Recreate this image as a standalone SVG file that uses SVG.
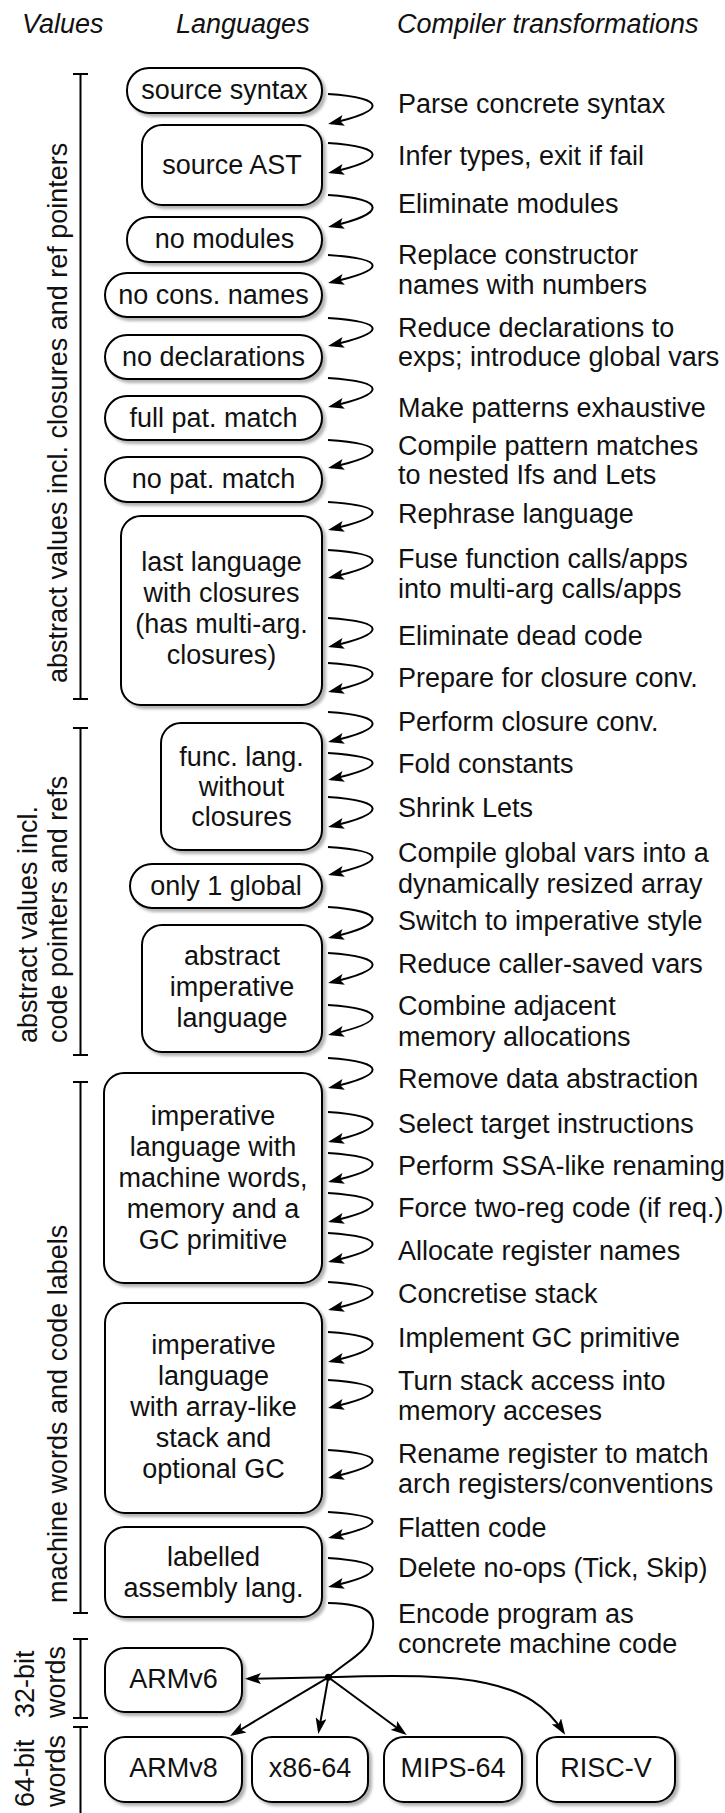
<svg xmlns="http://www.w3.org/2000/svg" width="725" height="1813" viewBox="0 0 725 1813">
  <defs>
    <style>
      .t { font-family: "Liberation Sans", Arial, Helvetica, sans-serif; font-size: 27px; fill: #111; }
      .m { text-anchor: middle; }
      .h { font-style: italic; }
      .box { fill: #fff; stroke: #000; stroke-width: 2; filter: url(#shadow); }
      .edge { fill: none; stroke: #000; stroke-width: 2; }
      .arr { marker-end: url(#head); }
      .brk { fill: none; stroke: #000; stroke-width: 2; }
    </style>
    <filter id="shadow" x="-10%" y="-10%" width="130%" height="140%">
      <feDropShadow dx="3" dy="3" stdDeviation="1.5" flood-color="#000" flood-opacity="0.3"/>
    </filter>
    <marker id="head" viewBox="0 0 16 11" refX="13" refY="5.5" markerWidth="16" markerHeight="11" markerUnits="userSpaceOnUse" orient="auto">
      <path d="M0,0 L16,5.5 L0,11 L3.5,5.5 Z" fill="#000"/>
    </marker>
  </defs>

  <rect width="725" height="1813" fill="#fff"/>

  <!-- column headings -->
  <g id="headings" class="t h">
    <text x="22" y="33">Values</text>
    <text x="176" y="33">Languages</text>
    <text x="397" y="33">Compiler transformations</text>
  </g>

  <!-- value-representation brackets -->
  <g id="brackets" class="brk">
    <path d="M80.5 74V699M73 74H88M73 699H88"/>
    <path d="M80.5 728V1055M73 728H88M73 1055H88"/>
    <path d="M80.5 1082V1613M73 1082H88M73 1613H88"/>
    <path d="M80.5 1639V1718M73 1639H88M73 1718H88"/>
    <path d="M80.5 1727V1813M73 1727H88"/>
  </g>
  <g id="bracket-labels" class="t">
    <text transform="translate(67 683) rotate(-90)">abstract values incl. closures and ref pointers</text>
    <text transform="translate(37 1043) rotate(-90)">abstract values incl.</text>
    <text transform="translate(67 1043) rotate(-90)">code pointers and refs</text>
    <text transform="translate(67 1603) rotate(-90)">machine words and code labels</text>
    <text transform="translate(34 1718) rotate(-90)">32-bit</text>
    <text transform="translate(65 1718) rotate(-90)">words</text>
    <text transform="translate(34 1807) rotate(-90)">64-bit</text>
    <text transform="translate(65 1807) rotate(-90)">words</text>
  </g>

  <!-- language nodes -->
  <g id="source-syntax"><rect class="box" x="127" y="68" width="195" height="45" rx="22"/><text class="t m" x="224.5" y="99">source syntax</text></g>
  <g id="source-ast"><rect class="box" x="142" y="125" width="180" height="80" rx="20"/><text class="t m" x="232" y="174">source AST</text></g>
  <g id="no-modules"><rect class="box" x="127" y="217" width="195" height="45" rx="22"/><text class="t m" x="224.5" y="248">no modules</text></g>
  <g id="no-cons-names"><rect class="box" x="105" y="273" width="217" height="44" rx="22"/><text class="t m" x="213.5" y="304">no cons. names</text></g>
  <g id="no-declarations"><rect class="box" x="105" y="335" width="217" height="44" rx="22"/><text class="t m" x="213.5" y="366">no declarations</text></g>
  <g id="full-pat-match"><rect class="box" x="105" y="396" width="217" height="44" rx="22"/><text class="t m" x="213.5" y="427">full pat. match</text></g>
  <g id="no-pat-match"><rect class="box" x="105" y="457" width="217" height="45" rx="22"/><text class="t m" x="213.5" y="488">no pat. match</text></g>
  <g id="last-closure-lang"><rect class="box" x="121" y="516" width="201" height="189" rx="20"/>
    <text class="t m" x="221.5" y="571">last language</text>
    <text class="t m" x="221.5" y="602">with closures</text>
    <text class="t m" x="221.5" y="633">(has multi-arg.</text>
    <text class="t m" x="221.5" y="664">closures)</text>
  </g>
  <g id="func-lang"><rect class="box" x="161" y="723" width="161" height="127" rx="20"/>
    <text class="t m" x="241.5" y="766">func. lang.</text>
    <text class="t m" x="241.5" y="796">without</text>
    <text class="t m" x="241.5" y="826">closures</text>
  </g>
  <g id="one-global"><rect class="box" x="130" y="864" width="192" height="44" rx="22"/><text class="t m" x="226" y="895">only 1 global</text></g>
  <g id="abstract-imperative"><rect class="box" x="142" y="925" width="180" height="127" rx="20"/>
    <text class="t m" x="232" y="965">abstract</text>
    <text class="t m" x="232" y="996">imperative</text>
    <text class="t m" x="232" y="1027">language</text>
  </g>
  <g id="machine-word-lang"><rect class="box" x="104" y="1073" width="218" height="210" rx="20"/>
    <text class="t m" x="213" y="1125">imperative</text>
    <text class="t m" x="213" y="1156">language with</text>
    <text class="t m" x="213" y="1187">machine words,</text>
    <text class="t m" x="213" y="1218">memory and a</text>
    <text class="t m" x="213" y="1249">GC primitive</text>
  </g>
  <g id="stack-lang"><rect class="box" x="105" y="1303" width="217" height="210" rx="20"/>
    <text class="t m" x="213.5" y="1354">imperative</text>
    <text class="t m" x="213.5" y="1385">language</text>
    <text class="t m" x="213.5" y="1416">with array-like</text>
    <text class="t m" x="213.5" y="1447">stack and</text>
    <text class="t m" x="213.5" y="1478">optional GC</text>
  </g>
  <g id="labelled-asm"><rect class="box" x="105" y="1527" width="217" height="90" rx="20"/>
    <text class="t m" x="213.5" y="1566">labelled</text>
    <text class="t m" x="213.5" y="1597">assembly lang.</text>
  </g>
  <g id="armv6"><rect class="box" x="105" y="1648" width="137" height="64" rx="20"/><text class="t m" x="173.5" y="1688">ARMv6</text></g>
  <g id="armv8"><rect class="box" x="105" y="1737" width="137" height="65" rx="20"/><text class="t m" x="173.5" y="1777">ARMv8</text></g>
  <g id="x86-64"><rect class="box" x="252" y="1737" width="116" height="65" rx="20"/><text class="t m" x="310" y="1777">x86-64</text></g>
  <g id="mips-64"><rect class="box" x="384" y="1737" width="138" height="65" rx="20"/><text class="t m" x="453" y="1777">MIPS-64</text></g>
  <g id="risc-v"><rect class="box" x="537" y="1737" width="138" height="65" rx="20"/><text class="t m" x="606" y="1777">RISC-V</text></g>

  <!-- transformation passes -->
  <g id="passes" class="t">
    <text x="398" y="113">Parse concrete syntax</text>
    <text x="398" y="165">Infer types, exit if fail</text>
    <text x="398" y="213">Eliminate modules</text>
    <text x="398" y="264">Replace constructor</text>
    <text x="398" y="294">names with numbers</text>
    <text x="398" y="337">Reduce declarations to</text>
    <text x="398" y="366">exps; introduce global vars</text>
    <text x="398" y="417">Make patterns exhaustive</text>
    <text x="398" y="455">Compile pattern matches</text>
    <text x="398" y="484">to nested Ifs and Lets</text>
    <text x="398" y="523">Rephrase language</text>
    <text x="398" y="568">Fuse function calls/apps</text>
    <text x="398" y="598">into multi-arg calls/apps</text>
    <text x="398" y="645">Eliminate dead code</text>
    <text x="398" y="687">Prepare for closure conv.</text>
    <text x="398" y="731">Perform closure conv.</text>
    <text x="398" y="773">Fold constants</text>
    <text x="398" y="817">Shrink Lets</text>
    <text x="398" y="862">Compile global vars into a</text>
    <text x="398" y="893">dynamically resized array</text>
    <text x="398" y="930">Switch to imperative style</text>
    <text x="398" y="973">Reduce caller-saved vars</text>
    <text x="398" y="1015">Combine adjacent</text>
    <text x="398" y="1046">memory allocations</text>
    <text x="398" y="1088">Remove data abstraction</text>
    <text x="398" y="1133">Select target instructions</text>
    <text x="398" y="1175">Perform SSA-like renaming</text>
    <text x="398" y="1217">Force two-reg code (if req.)</text>
    <text x="398" y="1260">Allocate register names</text>
    <text x="398" y="1303">Concretise stack</text>
    <text x="398" y="1347">Implement GC primitive</text>
    <text x="398" y="1390">Turn stack access into</text>
    <text x="398" y="1420">memory acceses</text>
    <text x="398" y="1463">Rename register to match</text>
    <text x="398" y="1493">arch registers/conventions</text>
    <text x="398" y="1537">Flatten code</text>
    <text x="398" y="1577">Delete no-ops (Tick, Skip)</text>
    <text x="398" y="1623">Encode program as</text>
    <text x="398" y="1653">concrete machine code</text>
  </g>

  <!-- connectors -->
  <g id="connectors">
    <g class="edge arr">
      <path d="M328 94C388 98 386 111 331 123.3"/>
      <path d="M328 143C388 147 386 160 331 172.3"/>
      <path d="M328 195C388 199 386 214 331 226.3"/>
      <path d="M328 255C388 259 386 270 331 282.3"/>
      <path d="M328 318C388 322 386 333 331 345.3"/>
      <path d="M328 378C388 382 386 394 331 406.3"/>
      <path d="M328 440C388 444 386 455 331 467.3"/>
      <path d="M328 502C388 506 386 517 331 529.3"/>
      <path d="M328 550C388 554 386 565 331 577.3"/>
      <path d="M328 618C388 622 386 634 331 646.3"/>
      <path d="M328 663C388 667 386 679 331 691.3"/>
      <path d="M328 712C388 716 386 729 331 741.3"/>
      <path d="M328 753C388 757 386 767 331 779.3"/>
      <path d="M328 797C388 801 386 814 331 826.3"/>
      <path d="M328 847C388 851 386 862 331 874.3"/>
      <path d="M328 907C388 911 386 925 331 937.3"/>
      <path d="M328 953C388 957 386 970 331 982.3"/>
      <path d="M328 1005C388 1009 386 1022 331 1034.3"/>
      <path d="M328 1058C388 1062 386 1075 331 1087.3"/>
      <path d="M328 1112C388 1116 386 1129 331 1141.3"/>
      <path d="M328 1153C388 1157 386 1169 331 1181.3"/>
      <path d="M328 1193C388 1197 386 1209 331 1221.3"/>
      <path d="M328 1233C388 1237 386 1249 331 1261.3"/>
      <path d="M328 1282C388 1286 386 1297 331 1309.3"/>
      <path d="M328 1332C388 1336 386 1349 331 1361.3"/>
      <path d="M328 1380C388 1384 386 1395 331 1407.3"/>
      <path d="M328 1450C388 1454 386 1465 331 1477.3"/>
      <path d="M328 1512C388 1516 386 1525 331 1537.3"/>
      <path d="M328 1558C388 1562 386 1574 331 1586.3"/>
    </g>
    <!-- encoding step fans out to the targets -->
    <path class="edge" d="M328 1603C372 1604 376 1614 372 1634C368 1652 348 1660 328.3 1677.3"/>
    <g class="edge arr">
      <path d="M328.3 1677.3L248 1678.8"/>
      <path d="M328.3 1677.3L232.6 1734.5"/>
      <path d="M328.3 1677.3L318.8 1731"/>
      <path d="M328.3 1677.3L404.3 1733.2"/>
      <path d="M328.3 1677.3C470 1672 530 1680 563.5 1732.3"/>
    </g>
    <circle cx="328.3" cy="1677.3" r="3.5" fill="#000"/>
  </g>
</svg>
